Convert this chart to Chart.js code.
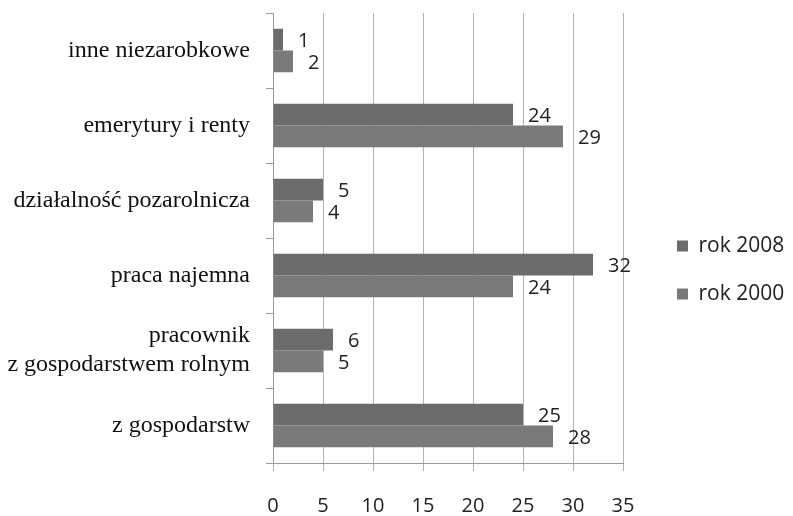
<!DOCTYPE html>
<html>
<head>
<meta charset="utf-8">
<script src="https://cdn.jsdelivr.net/npm/chart.js@4/dist/chart.umd.min.js"></script>
<style>
  html, body { margin: 0; padding: 0; background: #fff; }
  #wrap { width: 793px; height: 516px; }
</style>
</head>
<body>
<div id="wrap"><canvas id="chart"></canvas></div>
<script>
const categories = [
  "inne niezarobkowe",
  "emerytury i renty",
  "działalność pozarolnicza",
  "praca najemna",
  ["pracownik", "z gospodarstwem rolnym"],
  "z gospodarstw",
];
const rok2008 = [1, 24, 5, 32, 6, 25];
const rok2000 = [2, 29, 4, 24, 5, 28];
const xTicks = [0, 5, 10, 15, 20, 25, 30, 35];

const sansFont = "'Open Sans', 'Noto Sans', sans-serif";
const serifFont = "'Liberation Serif', 'DejaVu Serif', serif";

// labels at the end of each bar
const barValueLabels = {
  id: "barValueLabels",
  afterDatasetsDraw(chart) {
    const c = chart.ctx;
    c.save();
    c.font = "20px " + sansFont;
    c.fillStyle = "#222";
    c.textAlign = "left";
    c.textBaseline = "middle";
    chart.data.datasets.forEach((ds, i) => {
      chart.getDatasetMeta(i).data.forEach((bar, j) => {
        c.fillText(String(ds.data[j]), bar.x + 15, bar.y + 2);
      });
    });
    c.restore();
  },
};

// push the legend a bit further away from the plot
const legendShift = {
  id: "legendShift",
  afterLayout(chart) {
    if (chart.legend) {
      chart.legend.left += 27;
      chart.legend.right += 27;
    }
  },
};

new Chart(document.getElementById("chart"), {
  type: "bar",
  data: {
    labels: categories,
    datasets: [
      {
        label: "rok 2008",
        data: rok2008,
        backgroundColor: "#6c6c6c",
        barPercentage: 1,
        categoryPercentage: 0.58,
      },
      {
        label: "rok 2000",
        data: rok2000,
        backgroundColor: "#7a7a7a",
        barPercentage: 1,
        categoryPercentage: 0.58,
      },
    ],
  },
  options: {
    indexAxis: "y",
    responsive: true,
    maintainAspectRatio: false,
    animation: false,
    layout: { padding: { top: 13, right: 0 } },
    plugins: {
      legend: {
        position: "right",
        title: { display: true, text: " ", font: { size: 4 }, padding: 3 },
        labels: {
          boxWidth: 11,
          boxHeight: 11,
          padding: 27,
          color: "#222",
          font: { family: sansFont, size: 21 },
        },
      },
      tooltip: { enabled: false },
    },
    scales: {
      x: {
        min: 0,
        max: 35,
        afterBuildTicks(scale) {
          scale.ticks = xTicks.map((v) => ({ value: v }));
        },
        afterFit(scale) {
          scale.height = 53;
          scale.paddingRight = 170; // room for the legend
        },
        grid: {
          color: "#b4b4b4",
          tickLength: 8,
        },
        border: { color: "#9a9a9a" },
        ticks: {
          color: "#222",
          padding: 23,
          font: { family: sansFont, size: 20 },
        },
      },
      y: {
        afterFit(scale) {
          scale.width = 273;
          scale.paddingTop = 0;
          scale.paddingBottom = 0;
        },
        grid: {
          offset: true,
          drawOnChartArea: false,
          color: "#9a9a9a",
          tickLength: 7,
        },
        border: { color: "#9a9a9a" },
        ticks: {
          color: "#111",
          padding: 16,
          font: { family: serifFont, size: 24 },
        },
      },
    },
  },
  plugins: [barValueLabels, legendShift],
});
</script>
</body>
</html>
